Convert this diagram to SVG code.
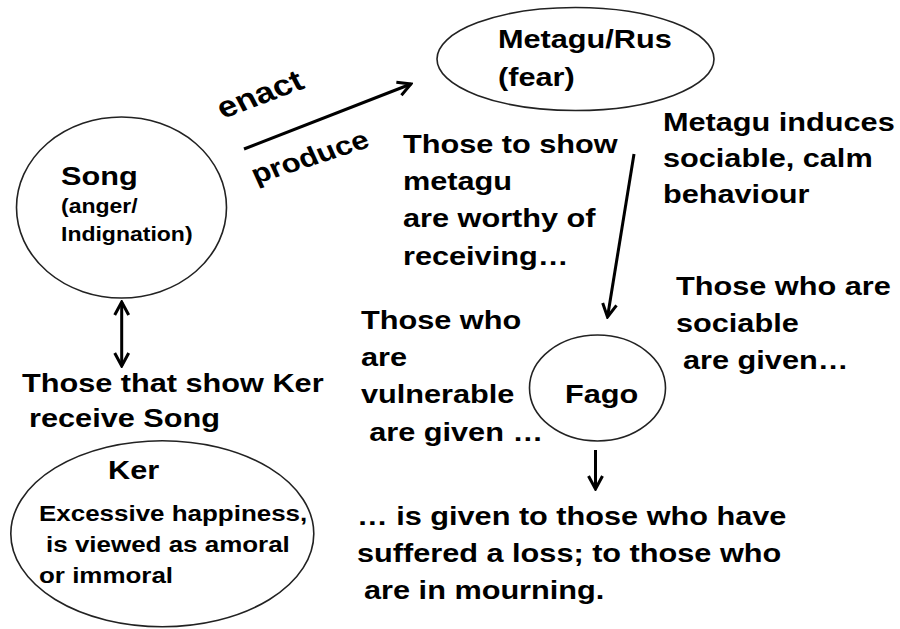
<svg xmlns="http://www.w3.org/2000/svg" width="900" height="629" viewBox="0 0 900 629">
<style>
.t{font-family:"Liberation Sans",Arial,sans-serif;font-weight:bold;fill:#000;font-size:26px}
.s22{font-size:22px}
.s20{font-size:19.5px}
.node{fill:#fff;stroke:#222;stroke-width:1.6}
.conn{stroke:#000;stroke-width:3;fill:none}
</style>
<defs>
<marker id="ah" viewBox="-16 -9 18 18" refX="0" refY="0" markerWidth="18" markerHeight="18" markerUnits="userSpaceOnUse" orient="auto-start-reverse">
<path d="M-13,-7 L0,0 L-13,7" fill="none" stroke="#000" stroke-width="3" stroke-linejoin="miter"/>
</marker>
</defs>
<rect width="900" height="629" fill="#fff"/>
<g id="connectors">
<line class="conn" x1="244" y1="149" x2="411" y2="84" marker-end="url(#ah)"/>
<line class="conn" x1="634" y1="154" x2="607.5" y2="317" marker-end="url(#ah)"/>
<line class="conn" x1="121.7" y1="302" x2="121.7" y2="366" marker-start="url(#ah)" marker-end="url(#ah)"/>
<line class="conn" x1="595.5" y1="450" x2="595.5" y2="489" marker-end="url(#ah)"/>
<text class="t" style="font-size:29.5px" transform="translate(223,119) scale(1.18,1) rotate(-24)">enact</text>
<text class="t" style="font-size:26.5px" transform="translate(256,184) scale(1.18,1) rotate(-21)">produce</text>
</g>
<g id="song">
<ellipse class="node" cx="121.5" cy="207.5" rx="105" ry="90.5"/>
<text class="t" transform="translate(61,185) scale(1.18,1)">Song</text>
<text class="t s20" transform="translate(61,213) scale(1.18,1)"><tspan x="0" y="0">(anger/</tspan><tspan x="0" y="28">Indignation)</tspan></text>
</g>
<g id="metagu">
<ellipse class="node" cx="575.5" cy="59" rx="138.5" ry="51.5"/>
<text class="t" transform="translate(498,48) scale(1.18,1)"><tspan x="0" y="0">Metagu/Rus</tspan><tspan x="0" y="38">(fear)</tspan></text>
</g>
<g id="fago">
<ellipse class="node" cx="597.5" cy="388" rx="68" ry="53"/>
<text class="t" transform="translate(565,403) scale(1.18,1)">Fago</text>
</g>
<g id="ker">
<ellipse class="node" cx="162.3" cy="533.7" rx="151.5" ry="93"/>
<text class="t" transform="translate(108,479) scale(1.18,1)">Ker</text>
<text class="t s22" transform="translate(39,521) scale(1.18,1)"><tspan x="0" y="0">Excessive happiness,</tspan><tspan x="6" y="31">is viewed as amoral</tspan><tspan x="0" y="62">or immoral</tspan></text>
</g>
<g id="labels">
<text class="t" transform="translate(403,153) scale(1.18,1)"><tspan x="0" y="0">Those to show</tspan><tspan x="0" y="37">metagu</tspan><tspan x="0" y="74">are worthy of</tspan><tspan x="0" y="112">receiving…</tspan></text>
<text class="t" transform="translate(663,131) scale(1.18,1)"><tspan x="0" y="0">Metagu induces</tspan><tspan x="0" y="36">sociable, calm</tspan><tspan x="0" y="72">behaviour</tspan></text>
<text class="t" transform="translate(676,295) scale(1.18,1)"><tspan x="0" y="0">Those who are</tspan><tspan x="0" y="37">sociable</tspan><tspan x="6" y="74">are given…</tspan></text>
<text class="t" transform="translate(361,329) scale(1.18,1)"><tspan x="0" y="0">Those who</tspan><tspan x="0" y="37">are</tspan><tspan x="0" y="74">vulnerable</tspan><tspan x="7" y="112">are given …</tspan></text>
<text class="t" transform="translate(22,392) scale(1.18,1)"><tspan x="0" y="0">Those that show Ker</tspan><tspan x="6" y="35">receive Song</tspan></text>
<text class="t" transform="translate(357,525) scale(1.18,1)"><tspan x="0" y="0">… is given to those who have</tspan><tspan x="0" y="37">suffered a loss; to those who</tspan><tspan x="6" y="74">are in mourning.</tspan></text>
</g>
</svg>
